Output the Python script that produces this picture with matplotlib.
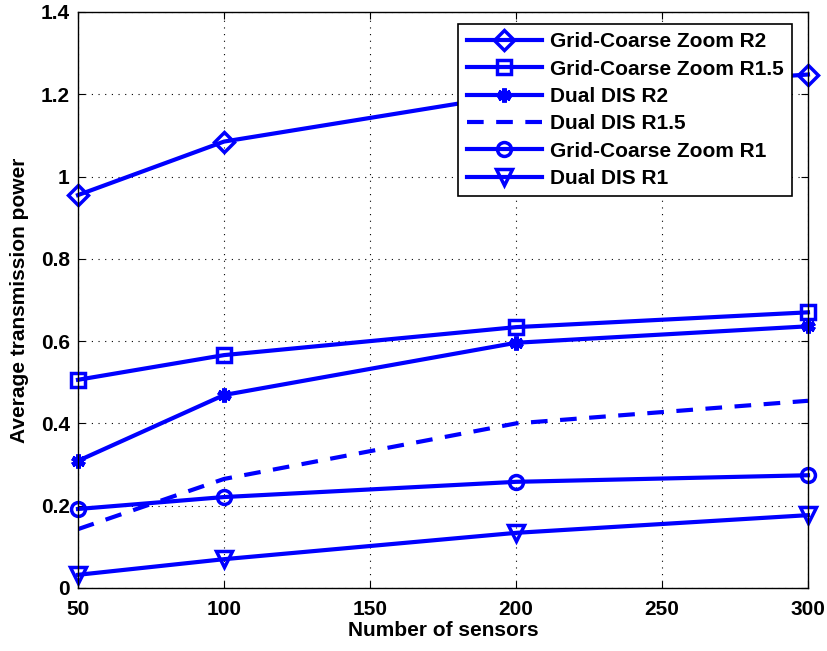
import matplotlib
matplotlib.use("Agg")
import matplotlib.pyplot as plt

plt.rcParams['font.family'] = ['Liberation Sans', 'DejaVu Sans']
plt.rcParams['font.weight'] = 'bold'

sensors = [50, 100, 200, 300]
gcz_r2 = [0.955, 1.085, 1.20, 1.248]
gcz_r15 = [0.506, 0.566, 0.634, 0.670]
dual_r2 = [0.309, 0.469, 0.596, 0.636]
dual_r15 = [0.143, 0.265, 0.400, 0.455]
gcz_r1 = [0.192, 0.221, 0.258, 0.274]
dual_r1 = [0.032, 0.070, 0.134, 0.177]

blue = (0, 0, 1)
fig = plt.figure(figsize=(8.27, 6.51), dpi=100)
ax = fig.add_axes([0.0943, 0.0968, 0.8827, 0.8848])

kw = dict(color=blue, lw=3, ms=10, mew=2.5, mfc='none', mec=blue, clip_on=False)
ax.plot(sensors, gcz_r2, marker='D', label='Grid-Coarse Zoom R2', **kw)
ax.plot(sensors, gcz_r15, marker='s', label='Grid-Coarse Zoom R1.5', **kw)
ax.plot(sensors, dual_r2, color=blue, lw=3, marker=(6, 2, 0), ms=10, mew=3.5,
        mec=blue, clip_on=False, label='Dual DIS R2')
ax.plot(sensors, dual_r15, color=blue, lw=3, ls=(0, (4, 3)), label='Dual DIS R1.5')
ax.plot(sensors, gcz_r1, marker='o', label='Grid-Coarse Zoom R1', **kw)
ax.plot(sensors, dual_r1, marker='v', label='Dual DIS R1', **dict(kw, ms=12))

ax.set_xlim(50, 300)
ax.set_ylim(0, 1.4)
ax.set_xticks([50, 100, 150, 200, 250, 300])
ax.set_yticks([0, 0.2, 0.4, 0.6, 0.8, 1.0, 1.2, 1.4])
ax.set_yticklabels(['0', '0.2', '0.4', '0.6', '0.8', '1', '1.2', '1.4'])
ax.grid(True, color='black', ls=(0, (1, 5)), lw=0.8)
ax.tick_params(direction='in', which='both', top=True, right=True, labelsize=15,
               length=5, width=0.8)
ax.tick_params(axis='x', pad=9)
ax.tick_params(axis='y', pad=6)
for s in ax.spines.values():
    s.set_linewidth(1)
for lab in ax.get_xticklabels() + ax.get_yticklabels():
    lab.set_fontweight('bold')
ax.set_xlabel('Number of sensors', fontsize=15, fontweight='bold', labelpad=1)
ax.set_ylabel('Average transmission power', fontsize=15, fontweight='bold', labelpad=8)

leg = ax.legend(loc='upper right', fontsize=15, frameon=True, fancybox=False,
                edgecolor='black', framealpha=1, handlelength=3.6,
                handletextpad=0.4, borderaxespad=0, labelspacing=0.4,
                borderpad=0.4, bbox_to_anchor=(0.978, 0.979))
leg.get_frame().set_linewidth(1.2)
for t in leg.get_texts():
    t.set_fontweight('bold')

fig.savefig('out.png', dpi=100)
